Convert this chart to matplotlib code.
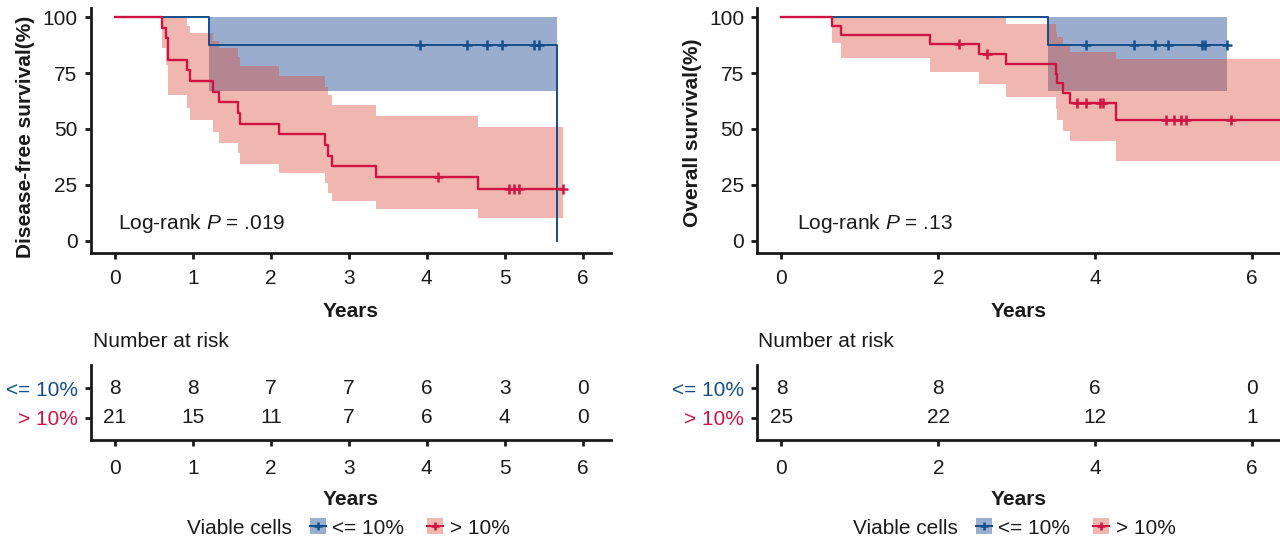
import numpy as np
import matplotlib
matplotlib.use("Agg")
import matplotlib.pyplot as plt
from matplotlib.patches import Patch
from matplotlib.lines import Line2D

plt.rcParams["font.family"] = ["Liberation Sans", "DejaVu Sans"]
plt.rcParams["mathtext.fontset"] = "custom"
plt.rcParams["mathtext.rm"] = "Liberation Sans"
plt.rcParams["mathtext.it"] = "Liberation Sans:italic"

# ---- data: disease-free survival (left) ----
dfs_lo_t = [0, 1.21, 5.67]
dfs_lo_s = [100, 87.5, 0]
dfs_lo_ci_low = [100, 67.0, 67.0]
dfs_lo_ci_up = [100, 100, 100]
dfs_lo_end = 5.67
dfs_lo_cens = [3.91, 4.52, 4.77, 4.96, 5.38, 5.44]

dfs_hi_t = [0, 0.60, 0.65, 0.68, 0.93, 0.97, 1.26, 1.33, 1.58, 1.60, 2.11, 2.69, 2.73, 2.79, 3.35, 4.66]
dfs_hi_s = [100, 95.2, 90.5, 81.0, 76.2, 71.4, 66.7, 61.9, 57.1, 52.4, 47.6, 42.9, 38.1, 33.3, 28.6, 22.9]
dfs_hi_ci_up = [100, 100, 100, 100, 96.2, 92.8, 89.4, 86.1, 82.4, 78.2, 73.9, 68.7, 65.2, 60.7, 55.8, 50.9]
dfs_hi_ci_low = [100, 86.1, 78.6, 65.2, 59.5, 54.0, 48.8, 43.9, 39.1, 34.3, 30.2, 25.7, 21.5, 17.8, 14.2, 10.0]
dfs_hi_end = 5.75
dfs_hi_cens = [4.14, 5.05, 5.12, 5.18, 5.75]

# ---- data: overall survival (right) ----
os_lo_t = [0, 3.40]
os_lo_s = [100, 87.5]
os_lo_ci_low = [100, 67.0]
os_lo_ci_up = [100, 100]
os_lo_end = 5.69
os_lo_cens = [3.89, 4.50, 4.76, 4.93, 5.36, 5.40, 5.69]

os_hi_t = [0, 0.65, 0.76, 1.90, 2.52, 2.86, 3.50, 3.52, 3.59, 3.68, 4.27]
os_hi_s = [100, 96.0, 92.0, 88.0, 83.6, 79.2, 74.8, 70.4, 66.0, 61.6, 53.9]
os_hi_ci_up = [100, 100, 100, 100, 100, 96.9, 93.6, 91.3, 87.9, 84.6, 81.2]
os_hi_ci_low = [100, 88.4, 81.6, 75.6, 70.0, 64.5, 59.0, 54.0, 49.2, 44.6, 35.7]
os_hi_end = 6.6
os_hi_cens = [2.26, 2.62, 3.77, 3.89, 4.06, 4.10, 4.90, 5.01, 5.10, 5.16, 5.73]

# ---- number at risk ----
dfs_risk_times = [0, 1, 2, 3, 4, 5, 6]
dfs_risk_lo = [8, 8, 7, 7, 6, 3, 0]
dfs_risk_hi = [21, 15, 11, 7, 6, 4, 0]
os_risk_times = [0, 2, 4, 6]
os_risk_lo = [8, 8, 6, 0]
os_risk_hi = [25, 22, 12, 1]

group_labels = ["<= 10%", "> 10%"]

BLUE = "#134e8c"
RED = "#cf1442"
BLUE_BAND = "#1f4b94"
RED_BAND = "#d94d39"
BLUE_PATCH = "#9aaecf"
RED_PATCH = "#f0b8b0"
INK = "#1a1a1a"
FS = 15

W, H = 1280, 542
fig = plt.figure(figsize=(W / 100, H / 100), dpi=100)

XLIM = (-0.31, 6.36)


def px_axes(x0, y0, x1, y1):
    return fig.add_axes([x0 / W, 1 - y1 / H, (x1 - x0) / W, (y1 - y0) / H])


def style(ax, xpad=7):
    for s in ["top", "right"]:
        ax.spines[s].set_visible(False)
    for s in ["left", "bottom"]:
        ax.spines[s].set_linewidth(2)
        ax.spines[s].set_color(INK)
    ax.tick_params(direction="out", length=4.5, width=2, color=INK,
                   labelsize=FS, labelcolor=INK)
    ax.tick_params(axis="x", pad=xpad)
    ax.tick_params(axis="y", pad=5)


def draw_panel(ax, groups, xticks, ptext, ptext_x, ylabel, label_y):
    # bands first (blue, then red), lines on top
    for g in groups:
        tt = list(g["t"]) + [g["end"]]
        ax.fill_between(tt, list(g["lo"]) + [g["lo"][-1]], list(g["up"]) + [g["up"][-1]],
                        step="post", color=g["band"], alpha=g["alpha"], linewidth=0)
    for g in groups:
        tt = list(g["t"]) + [g["end"]]
        ss = list(g["s"]) + [g["s"][-1]]
        ax.step(tt, ss, where="post", color=g["c"], linewidth=g["lw"], zorder=3)
        idx = np.searchsorted(g["t"], g["cens"], side="right") - 1
        cy = np.array(g["s"])[idx]
        ax.plot(g["cens"], cy, linestyle="none", marker="+", markersize=7,
                markeredgewidth=1.8, color=g["c"], zorder=4)
    ax.set_xlim(*XLIM)
    ax.set_ylim(-5.4, 104.0)
    ax.set_xticks(xticks)
    ax.set_yticks([0, 25, 50, 75, 100])
    style(ax)
    ax.set_xlabel("Years", fontsize=FS, fontweight="bold", labelpad=10, color=INK)
    ax.set_ylabel(ylabel, fontsize=FS, fontweight="bold", labelpad=5, color=INK)
    ax.yaxis.label.set_y(label_y)
    ax.text(ptext_x, 7.5, ptext, fontsize=FS, va="center", color=INK)


def draw_risk(ax, times, lo, hi):
    for x, a, b in zip(times, lo, hi):
        ax.text(x, 1, str(a), ha="center", va="center", fontsize=FS, color=INK)
        ax.text(x, 0, str(b), ha="center", va="center", fontsize=FS, color=INK)
    ax.set_xlim(*XLIM)
    ax.set_ylim(-0.76, 1.79)
    ax.set_xticks(times)
    ax.set_yticks([1, 0])
    ax.set_yticklabels(group_labels)
    style(ax, xpad=9)
    ax.get_yticklabels()[0].set_color(BLUE)
    ax.get_yticklabels()[1].set_color(RED)
    ax.set_xlabel("Years", fontsize=FS, fontweight="bold", labelpad=9, color=INK)


dfs_groups = [
    dict(t=dfs_lo_t, s=dfs_lo_s, lo=dfs_lo_ci_low, up=dfs_lo_ci_up, end=dfs_lo_end,
         cens=dfs_lo_cens, c=BLUE, band=BLUE_BAND, alpha=0.45, lw=1.4),
    dict(t=dfs_hi_t, s=dfs_hi_s, lo=dfs_hi_ci_low, up=dfs_hi_ci_up, end=dfs_hi_end,
         cens=dfs_hi_cens, c=RED, band=RED_BAND, alpha=0.4, lw=1.7),
]
os_groups = [
    dict(t=os_lo_t, s=os_lo_s, lo=os_lo_ci_low, up=os_lo_ci_up, end=os_lo_end,
         cens=os_lo_cens, c=BLUE, band=BLUE_BAND, alpha=0.45, lw=1.4),
    dict(t=os_hi_t, s=os_hi_s, lo=os_hi_ci_low, up=os_hi_ci_up, end=os_hi_end,
         cens=os_hi_cens, c=RED, band=RED_BAND, alpha=0.4, lw=1.7),
]

ax1 = px_axes(90.7, 8.3, 610.7, 252.7)
draw_panel(ax1, dfs_groups, [0, 1, 2, 3, 4, 5, 6], "Log-rank $P$ = .019", 0.04,
           "Disease-free survival(%)", 0.475)
ax2 = px_axes(757.2, 8.3, 1280, 252.7)
draw_panel(ax2, os_groups, [0, 2, 4, 6], "Log-rank $P$ = .13", 0.2,
           "Overall survival(%)", 0.49)

r1 = px_axes(90.7, 365, 610.7, 440)
draw_risk(r1, dfs_risk_times, dfs_risk_lo, dfs_risk_hi)
r2 = px_axes(757.2, 365, 1280, 440)
draw_risk(r2, os_risk_times, os_risk_lo, os_risk_hi)

fig.text(92.8 / W, 1 - 341.7 / H, "Number at risk", fontsize=FS, va="center", color=INK)
fig.text(758 / W, 1 - 341.7 / H, "Number at risk", fontsize=FS, va="center", color=INK)

# legends
handles = [
    (Patch(facecolor=BLUE_PATCH, edgecolor="none"),
     Line2D([], [], color=BLUE, marker="+", markersize=6, markeredgewidth=1.8, linewidth=1.5)),
    (Patch(facecolor=RED_PATCH, edgecolor="none"),
     Line2D([], [], color=RED, marker="+", markersize=6, markeredgewidth=1.8, linewidth=1.5)),
]
for tx, lx in [(187, 310), (853, 976)]:
    fig.text(tx / W, 1 - 528 / H, "Viable cells", fontsize=FS, va="center", color=INK)
    fig.legend(handles, group_labels, loc="center left",
               bbox_to_anchor=(lx / W, 1 - 528 / H), ncol=2, frameon=False,
               borderpad=0, borderaxespad=0, handlelength=0.77, handleheight=0.77,
               handletextpad=0.3, columnspacing=1.1, fontsize=FS,
               labelcolor=INK)

fig.savefig("out.png", dpi=100)
